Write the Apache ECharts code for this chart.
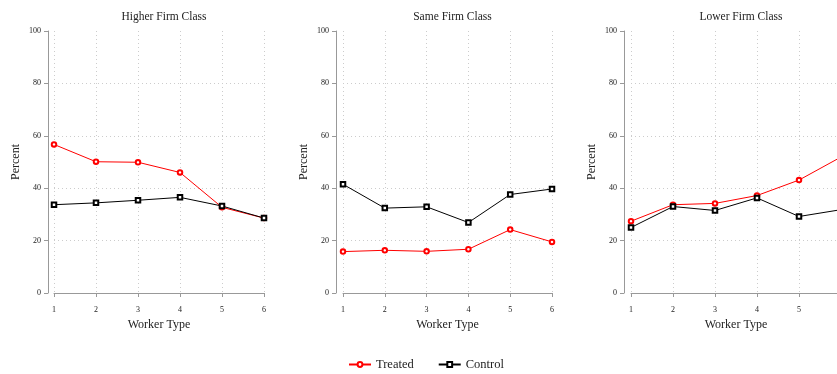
<!DOCTYPE html>
<html>
<head>
<meta charset="utf-8">
<script src="https://cdn.jsdelivr.net/npm/echarts@6/dist/echarts.min.js"></script>
<style>
html,body{margin:0;padding:0;background:#fff;overflow:hidden;}
#chart{width:860px;height:374px;}
</style>
</head>
<body>
<div id="chart"></div>
<script>
var categories = ['1', '2', '3', '4', '5', '6'];
var panelTitles = ['Higher Firm Class', 'Same Firm Class', 'Lower Firm Class'];
var higherTreated = [56.7, 50.1, 49.9, 46.0, 32.7, 28.6];
var higherControl = [33.7, 34.4, 35.4, 36.5, 33.2, 28.6];
var sameTreated = [15.8, 16.3, 15.9, 16.7, 24.2, 19.5];
var sameControl = [41.5, 32.4, 32.9, 26.9, 37.6, 39.7];
var lowerTreated = [27.4, 33.7, 34.2, 37.2, 43.1, 51.9];
var lowerControl = [25.0, 33.0, 31.5, 36.3, 29.2, 31.8];
var seriesNames = ['Treated', 'Control'];
var xAxisName = 'Worker Type';
var yAxisName = 'Percent';

var FONT = '"Liberation Serif", "DejaVu Serif", serif';
var RED = '#ff0000';
var BLACK = '#000000';
var panels = [
  {left: 54, width: 210, yOff: 6, t: higherTreated, c: higherControl},
  {left: 343, width: 209, yOff: 7, t: sameTreated, c: sameControl},
  {left: 631, width: 210, yOff: 7, t: lowerTreated, c: lowerControl}
];

var grids = [], xAxes = [], yAxes = [], series = [], titles = [];
panels.forEach(function (p, i) {
  grids.push({left: p.left, top: 31, width: p.width, height: 262});
  titles.push({
    text: panelTitles[i], left: p.left + p.width / 2, top: 6, textAlign: 'center',
    textStyle: {fontFamily: FONT, fontSize: 11.5, fontWeight: 'normal', color: '#222'}
  });
  xAxes.push({
    type: 'category', gridIndex: i, data: categories, boundaryGap: false, offset: 7,
    name: xAxisName, nameLocation: 'middle', nameGap: 17,
    nameTextStyle: {fontFamily: FONT, fontSize: 12, color: '#222'},
    axisLine: {show: true, lineStyle: {color: '#999', width: 1}},
    axisTick: {show: true, length: 4, lineStyle: {color: '#999'}},
    axisLabel: {fontFamily: FONT, fontSize: 8, color: '#222', margin: 6},
    splitLine: {show: true, lineStyle: {color: '#ccc', type: [1, 3], width: 1}}
  });
  yAxes.push({
    type: 'value', gridIndex: i, min: 0, max: 100, interval: 20, offset: p.yOff,
    name: yAxisName, nameLocation: 'middle', nameGap: 26,
    nameTextStyle: {fontFamily: FONT, fontSize: 12, color: '#222'},
    axisLine: {show: true, lineStyle: {color: '#999', width: 1}},
    axisTick: {show: true, length: 4, lineStyle: {color: '#999'}},
    axisLabel: {fontFamily: FONT, fontSize: 8, color: '#222', margin: 7},
    splitLine: {show: true, showMinLine: false, showMaxLine: false, lineStyle: {color: '#ccc', type: [1, 3], width: 1}}
  });
  series.push({
    name: seriesNames[0], type: 'line', xAxisIndex: i, yAxisIndex: i, data: p.t,
    symbol: 'emptyCircle', symbolSize: 4.5, color: RED,
    lineStyle: {color: RED, width: 1}, itemStyle: {color: RED, borderWidth: 1}
  });
  series.push({
    name: seriesNames[1], type: 'line', xAxisIndex: i, yAxisIndex: i, data: p.c,
    symbol: 'emptyRect', symbolSize: 4.5, color: BLACK,
    lineStyle: {color: BLACK, width: 1}, itemStyle: {color: BLACK, borderWidth: 1}
  });
});

var chart = echarts.init(document.getElementById('chart'));
chart.setOption({
  animation: false,
  backgroundColor: '#fff',
  title: titles,
  grid: grids,
  xAxis: xAxes,
  yAxis: yAxes,
  legend: {
    data: seriesNames, left: 348, top: 358, padding: 0, itemWidth: 22, itemHeight: 6, itemGap: 24,
    textStyle: {fontFamily: FONT, fontSize: 12.5, color: '#222'}
  },
  series: series
});
</script>
</body>
</html>
